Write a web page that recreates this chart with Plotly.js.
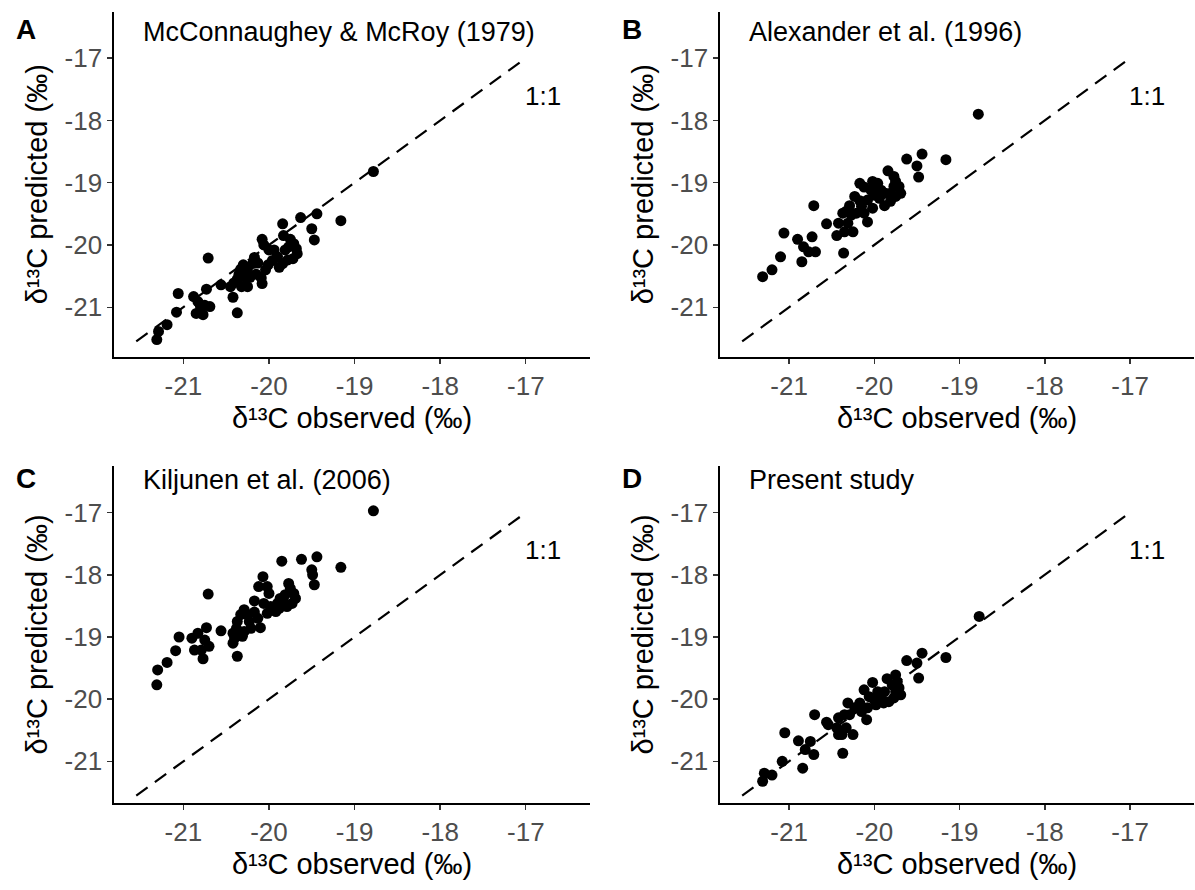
<!DOCTYPE html>
<html><head><meta charset="utf-8">
<script src="https://cdn.plot.ly/plotly-3.0.1.min.js"></script>
<style>body{margin:0;padding:0;background:#fff}#chart{width:1195px;height:890px}</style>
</head><body><div id="chart"></div>
<script>
// Panel A: McConnaughey & McRoy (1979)
const obsA = [-18.78,-19.44,-19.63,-19.16,-19.84,-19.50,-19.47,-20.08,-20.06,-19.83,-19.75,-19.71,-19.68,-19.67,-19.72,-19.78,-19.84,-19.88,-19.90,-19.96,-20.00,-20.01,-20.17,-20.19,-20.25,-20.30,-20.33,-20.35,-20.37,-20.41,-20.45,-20.32,-20.25,-20.22,-20.15,-20.09,-20.08,-20.42,-20.56,-20.71,-20.73,-20.88,-20.83,-20.75,-20.69,-20.85,-20.77,-20.80,-21.06,-21.08,-21.19,-21.29,-21.31,-20.37,-20.13,-19.94,-19.81,-20.27,-20.04,-19.77];
const predA = [-18.82,-19.50,-19.56,-19.61,-19.66,-19.74,-19.92,-19.91,-20.00,-19.85,-19.91,-19.98,-20.06,-20.14,-20.22,-20.24,-20.30,-20.36,-20.19,-20.25,-20.08,-20.32,-20.20,-20.30,-20.38,-20.32,-20.39,-20.47,-20.55,-20.61,-20.67,-20.67,-20.67,-20.52,-20.47,-20.53,-20.62,-20.84,-20.64,-20.21,-20.71,-20.83,-20.91,-20.97,-20.99,-21.10,-21.12,-20.99,-20.78,-21.08,-21.28,-21.39,-21.52,-21.09,-20.29,-20.08,-20.08,-20.53,-20.40,-20.03];
// Panel B: Alexander et al. (1996)
const obsB = [-18.78,-19.16,-19.44,-19.62,-19.50,-19.48,-19.84,-19.77,-19.75,-19.71,-19.69,-19.75,-19.81,-19.88,-19.87,-19.94,-19.92,-20.02,-20.12,-20.00,-20.02,-20.08,-20.12,-20.17,-20.21,-20.29,-20.33,-20.27,-20.31,-20.25,-20.35,-20.42,-20.44,-20.36,-20.56,-20.71,-21.06,-20.90,-20.73,-20.83,-20.77,-20.69,-20.85,-21.10,-21.20,-21.31,-19.77,-19.81,-19.96,-20.08,-20.15,-20.37,-20.04,-20.23,-20.17];
const predB = [-17.90,-18.63,-18.54,-18.62,-18.73,-18.91,-18.81,-18.90,-18.98,-19.06,-19.17,-19.22,-19.30,-19.37,-19.17,-19.25,-19.12,-18.98,-19.07,-19.20,-19.41,-19.63,-19.49,-19.29,-19.49,-19.37,-19.46,-19.52,-19.65,-19.79,-19.79,-19.65,-19.85,-20.13,-19.66,-19.37,-19.81,-19.91,-19.87,-20.03,-20.11,-20.11,-20.27,-20.19,-20.40,-20.51,-19.06,-19.17,-19.01,-19.28,-19.38,-19.49,-19.12,-19.22,-19.01];
// Panel C: Kiljunen et al. (2006)
const obsC = [-18.78,-19.85,-19.62,-19.44,-19.16,-19.50,-19.49,-19.47,-20.07,-20.12,-20.02,-20.00,-19.77,-19.75,-19.71,-19.69,-19.73,-19.79,-19.83,-19.87,-19.88,-19.92,-20.02,-20.06,-20.17,-20.17,-20.23,-20.29,-20.33,-20.37,-20.38,-20.29,-20.31,-20.42,-20.42,-20.37,-20.56,-20.71,-20.73,-20.83,-20.90,-20.75,-20.70,-20.79,-20.87,-20.77,-21.05,-21.09,-21.19,-21.30,-21.31,-20.10,-20.21,-19.81,-19.98,-20.13,-20.25,-20.40,-19.90];
const predC = [-16.97,-17.78,-17.75,-17.71,-17.88,-17.92,-18.00,-18.16,-18.03,-18.19,-18.19,-18.30,-18.14,-18.22,-18.30,-18.38,-18.46,-18.51,-18.43,-18.38,-18.54,-18.59,-18.62,-18.46,-18.42,-18.60,-18.75,-18.56,-18.64,-18.75,-18.86,-18.91,-18.99,-18.94,-19.10,-19.31,-18.90,-18.31,-18.85,-18.94,-19.02,-19.05,-19.15,-19.21,-19.21,-19.35,-19.00,-19.22,-19.41,-19.53,-19.77,-18.85,-18.86,-18.32,-18.51,-18.70,-18.64,-19.02,-18.46];
// Panel D: Present study
const obsD = [-18.77,-19.16,-19.44,-19.62,-19.50,-19.48,-19.85,-19.75,-19.73,-19.71,-19.69,-19.77,-19.83,-19.89,-19.92,-19.96,-20.00,-20.02,-20.12,-20.17,-20.23,-20.31,-20.29,-20.08,-20.09,-20.42,-20.44,-20.56,-20.70,-20.37,-20.25,-20.42,-20.33,-21.05,-20.89,-20.75,-20.81,-20.71,-20.84,-21.08,-21.20,-21.29,-21.31,-19.79,-19.88,-19.98,-20.06,-20.15,-20.35,-20.38,-20.54,-19.75];
const predD = [-18.67,-19.33,-19.26,-19.38,-19.42,-19.66,-19.67,-19.61,-19.72,-19.82,-19.93,-19.98,-20.04,-20.06,-19.96,-19.88,-20.01,-19.73,-19.85,-20.06,-20.14,-20.06,-20.25,-20.14,-20.33,-20.30,-20.46,-20.37,-20.25,-20.87,-20.57,-20.57,-20.46,-20.54,-20.67,-20.68,-20.81,-20.89,-21.11,-21.00,-21.22,-21.19,-21.32,-19.77,-19.88,-20.09,-19.96,-20.20,-20.25,-20.57,-20.41,-19.88];

const panelLabels = ["A","B","C","D"];
const panelTitles = ["McConnaughey & McRoy (1979)","Alexander et al. (1996)","Kiljunen et al. (2006)","Present study"];
const xTitle = "δ¹³C observed (‰)";
const yTitle = "δ¹³C predicted (‰)";
const lineX = [-21.55,-17];
const lineY = [-21.55,-17];
const tickVals = [-21,-20,-19,-18,-17];
const tickText = ["-21","-20","-19","-18","-17"];
const oneToOne = {text:"1:1", x:-16.8, y:-17.6};

const obs = [obsA,obsB,obsC,obsD];
const pred = [predA,predB,predC,predD];

const FONT = "Liberation Sans, Arial, sans-serif";
const W = 1195, H = 890;
const boxes = [[114,590,11.5,357],[720,1194,11.5,357],[114,590,466,803],[720,1194,466,803]];
const headerY = [30,30,478,478];
const yRanges = [[-21.80,-16.25],[-21.80,-16.25],[-21.67,-16.25],[-21.67,-16.25]];
const xRange = [-21.81,-16.25];

const data = [];
const layout = {width:W,height:H,margin:{l:0,r:0,t:0,b:0},showlegend:false,
  paper_bgcolor:"#fff",plot_bgcolor:"#fff",font:{family:FONT,color:"#000"},annotations:[]};

for (let i=0;i<4;i++){
  const sfx = i===0?"":String(i+1);
  const b = boxes[i];
  data.push({type:"scatter",mode:"lines",x:lineX,y:lineY,xaxis:"x"+sfx,yaxis:"y"+sfx,
    line:{color:"#000",width:2.2,dash:"14px,9px"},hoverinfo:"skip"});
  data.push({type:"scatter",mode:"markers",x:obs[i],y:pred[i],xaxis:"x"+sfx,yaxis:"y"+sfx,
    marker:{color:"#000",size:11,line:{width:0}}});
  const axCommon = {showgrid:false,zeroline:false,showline:true,linecolor:"#000",linewidth:1.6,
    ticks:"outside",ticklen:5,tickwidth:1.4,tickcolor:"#333",tickvals:tickVals,ticktext:tickText,
    tickfont:{family:FONT,size:26,color:"#4d4d4d"},fixedrange:true};
  layout["xaxis"+sfx] = Object.assign({},axCommon,{domain:[b[0]/W,b[1]/W],range:xRange,anchor:"y"+sfx,
    title:{text:xTitle,font:{family:FONT,size:29,color:"#000"},standoff:8}});
  layout["yaxis"+sfx] = Object.assign({},axCommon,{domain:[1-b[3]/H,1-b[2]/H],range:yRanges[i],anchor:"x"+sfx,
    title:{text:yTitle,font:{family:FONT,size:29,color:"#000"},standoff:8}});
  layout.annotations.push({xref:"x"+sfx,yref:"y"+sfx,x:oneToOne.x,y:oneToOne.y,text:oneToOne.text,
    showarrow:false,font:{family:FONT,size:26,color:"#000"}});
  layout.annotations.push({xref:"paper",yref:"paper",x:(b[0]+27)/W,y:1-(headerY[i]+2)/H,xanchor:"left",yanchor:"middle",
    text:panelTitles[i],showarrow:false,font:{family:FONT,size:27,color:"#000"}});
  layout.annotations.push({xref:"paper",yref:"paper",x:(b[0]-100)/W,y:1-headerY[i]/H,xanchor:"left",yanchor:"middle",
    text:"<b>"+panelLabels[i]+"</b>",showarrow:false,font:{family:FONT,size:28,color:"#000"}});
}
Plotly.newPlot("chart",data,layout,{staticPlot:true});
</script></body></html>
